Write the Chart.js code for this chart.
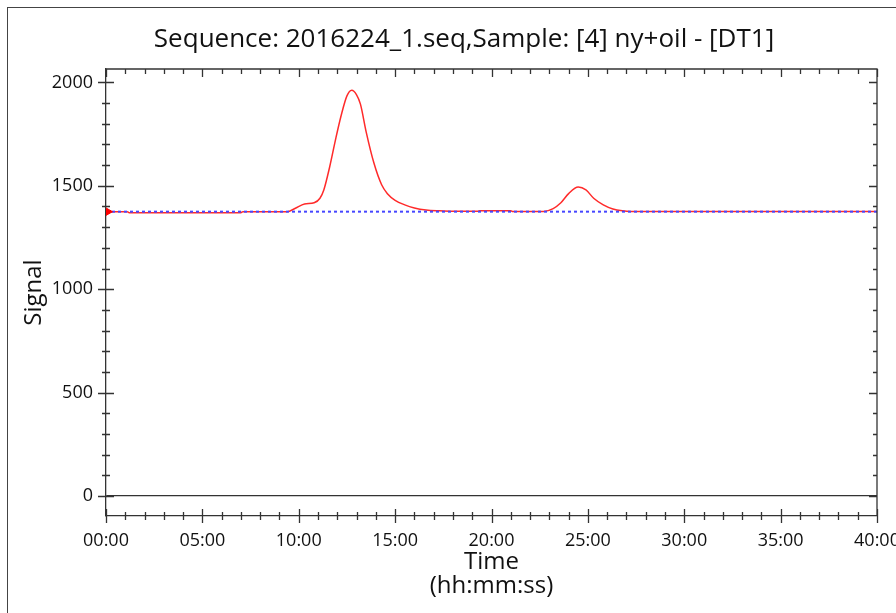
<!DOCTYPE html>
<html>
<head>
<meta charset="utf-8">
<script src="https://cdn.jsdelivr.net/npm/chart.js@4.4.1/dist/chart.umd.min.js"></script>
<style>
  html, body { margin: 0; padding: 0; background: #fff; overflow: hidden; }
  #wrap { position: relative; width: 896px; height: 613px; }
  #frame { position: absolute; left: 7px; top: 7px; width: 1000px; height: 1000px;
           border-left: 1.5px solid #444; border-top: 1.5px solid #444; }
  canvas { position: absolute; left: 0; top: 0; }
</style>
</head>
<body>
<div id="wrap">
  <div id="frame"></div>
  <canvas id="signalChart" width="896" height="613"></canvas>
</div>
<script>
// detector trace (time in minutes, signal)
const traceTime = [0, 1.1, 1.2, 7.0, 7.1, 9.4, 9.8, 10.3, 10.8, 11.1, 11.3, 11.6, 11.9, 12.2, 12.5,
  12.75, 13.0, 13.2, 13.5, 13.9, 14.3, 14.6, 15.0, 15.5, 16.0, 16.6, 17.3, 18.0, 19.3, 19.4,
  21.0, 21.1, 22.7, 23.2, 23.6, 24.0, 24.5, 24.9, 25.3, 25.8, 26.3, 26.8, 27.2, 40];
const traceSignal = [1375, 1375, 1370, 1370, 1375, 1375, 1390, 1412, 1418, 1440, 1480, 1590, 1720, 1840, 1935,
  1962, 1940, 1895, 1760, 1610, 1505, 1462, 1430, 1408, 1393, 1383, 1379, 1377, 1377, 1380,
  1380, 1376, 1376, 1390, 1418, 1462, 1494, 1480, 1440, 1408, 1388, 1379, 1376, 1376];

// baseline
const baselineTime = [0, 40];
const baselineSignal = [1375, 1375];

// start marker
const markerTime = [0];
const markerSignal = [1375];

// axis ticks
const xMajorTicks = [0, 5, 10, 15, 20, 25, 30, 35, 40];
const yMajorTicks = [0, 500, 1000, 1500, 2000];
const xMinorStep = 1;
const yMinorStep = 100;

const chartTitle = 'Sequence: 2016224_1.seq,Sample: [4] ny+oil - [DT1]';
const fontFamily = "'Open Sans', 'DejaVu Sans', sans-serif";

function zip(xs, ys) {
    return xs.map((v, i) => ({ x: v, y: ys[i] }));
}

function fmtTime(v) {
    let m = Math.floor(v);
    let s = Math.round((v - m) * 60);
    return String(m).padStart(2, '0') + ':' + String(s).padStart(2, '0');
}

// heading, placed a bit left of the plot centre like the original
const heading = {
    id: 'heading',
    afterDraw(chart, args, opts) {
        const c = chart.ctx;
        c.save();
        c.fillStyle = '#111';
        c.font = '26px ' + fontFamily;
        c.textAlign = 'center';
        c.textBaseline = 'middle';
        c.fillText(opts.text, opts.x, opts.y);
        c.restore();
    }
};

// ticks on all four sides + top/right border
const axisTicks = {
    id: 'axisTicks',
    afterDraw(chart) {
        const { ctx, chartArea: a, scales: { x, y } } = chart;
        ctx.save();
        ctx.strokeStyle = '#333';
        ctx.lineWidth = 1.3;
        ctx.beginPath();
        ctx.moveTo(a.left, a.top);
        ctx.lineTo(a.right, a.top);
        ctx.lineTo(a.right, a.bottom);
        for (let t = x.min; t <= x.max + 1e-6; t += xMinorStep) {
            const px = Math.round(x.getPixelForValue(t)) + 0.5;
            const major = xMajorTicks.includes(t);
            const len = major ? 7 : 4;
            ctx.moveTo(px, a.bottom - len);
            ctx.lineTo(px, a.bottom + len);
            ctx.moveTo(px, a.top);
            ctx.lineTo(px, a.top + (major ? 8 : 5));
        }
        for (let v = 0; v <= y.max; v += yMinorStep) {
            const py = Math.round(y.getPixelForValue(v)) + 0.5;
            const major = yMajorTicks.includes(v);
            const len = major ? 8 : 4;
            ctx.moveTo(a.left - len, py);
            ctx.lineTo(a.left + len, py);
            ctx.moveTo(a.right, py);
            ctx.lineTo(a.right - (major ? 8 : 4), py);
        }
        ctx.stroke();
        ctx.restore();
    }
};

let ctx = document.getElementById('signalChart').getContext('2d');

new Chart(ctx, {
    type: 'line',
    data: {
        datasets: [
            {
                label: 'Marker',
                data: zip(markerTime, markerSignal),
                showLine: false,
                pointStyle: 'triangle',
                rotation: 90,
                pointRadius: 6.5,
                backgroundColor: '#ff0000',
                borderColor: '#ff0000',
                order: 0
            },
            {
                label: 'Baseline',
                data: zip(baselineTime, baselineSignal),
                borderColor: '#4646ff',
                borderWidth: 2,
                borderDash: [3, 3],
                pointRadius: 0,
                order: 1
            },
            {
                label: 'DT1',
                data: zip(traceTime, traceSignal),
                borderColor: '#ff2a2a',
                borderWidth: 1.5,
                pointRadius: 0,
                cubicInterpolationMode: 'monotone',
                order: 2
            }
        ]
    },
    options: {
        responsive: false,
        animation: false,
        devicePixelRatio: 1,
        layout: { padding: { left: 0, right: 19, top: 69, bottom: 0 } },
        plugins: {
            legend: { display: false },
            tooltip: { enabled: false },
            title: { display: false },
            heading: { text: chartTitle, x: 464, y: 40 }
        },
        scales: {
            x: {
                type: 'linear',
                min: 0,
                max: 40,
                afterBuildTicks: s => { s.ticks = xMajorTicks.map(v => ({ value: v })); },
                afterFit: s => { s.height = 97; s.paddingLeft = 0; s.paddingRight = 0; },
                grid: { display: false, drawTicks: false },
                border: { display: true, color: '#333', width: 1.3 },
                ticks: {
                    color: '#111',
                    padding: 14,
                    maxRotation: 0,
                    autoSkip: false,
                    font: { family: fontFamily, size: 18 },
                    callback: v => fmtTime(v)
                },
                title: {
                    display: true,
                    text: ['Time', '(hh:mm:ss)'],
                    color: '#111',
                    font: { family: fontFamily, size: 24, lineHeight: 1.0 },
                    padding: { top: 0, bottom: 15 }
                }
            },
            y: {
                min: -97,
                max: 2065,
                afterBuildTicks: s => { s.ticks = yMajorTicks.map(v => ({ value: v })); },
                afterFit: s => { s.width = 106; s.paddingTop = 0; s.paddingBottom = 0; },
                grid: {
                    drawTicks: false,
                    color: c => (c.tick && c.tick.value === 0) ? '#333' : 'rgba(0,0,0,0)',
                    lineWidth: 1.3
                },
                border: { display: true, color: '#333', width: 1.3 },
                ticks: {
                    color: '#111',
                    padding: 13,
                    font: { family: fontFamily, size: 18 },
                    callback: v => String(v)
                },
                title: {
                    display: true,
                    text: 'Signal',
                    color: '#111',
                    font: { family: fontFamily, size: 24 },
                    padding: { top: 20, bottom: 0 }
                }
            }
        }
    },
    plugins: [heading, axisTicks]
});
</script>
</body>
</html>
